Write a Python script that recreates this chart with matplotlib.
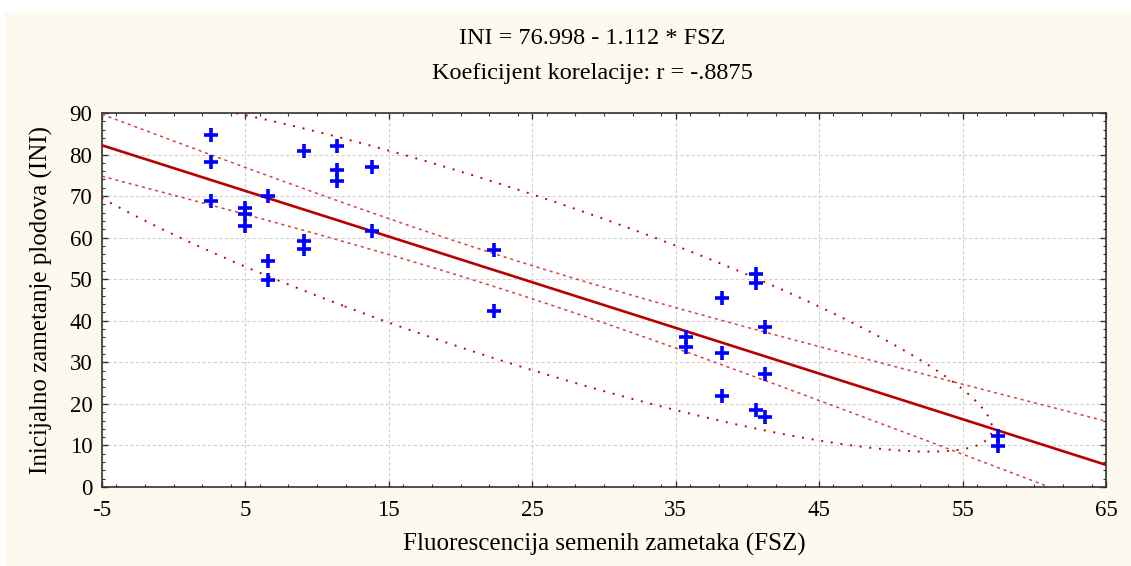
#!/usr/bin/env python3
import numpy as np
import matplotlib
matplotlib.use('Agg')
import matplotlib.pyplot as plt
from matplotlib.patches import Rectangle
from matplotlib.ticker import MultipleLocator

# FSZ (x) and INI (y)
fsz = [2.6, 2.6, 2.6, 5.0, 5.0, 5.0, 6.6, 6.6, 6.6, 9.1, 9.1, 9.1,
       11.4, 11.4, 11.4, 13.8, 13.8, 22.3, 22.3, 35.7, 35.7,
       38.2, 38.2, 38.2, 40.6, 40.6, 40.6, 41.2, 41.2, 41.2, 57.5, 57.5]
ini = [84.7, 78.2, 68.8, 67.1, 65.7, 62.8, 70.0, 54.4, 49.8, 80.8, 59.2, 57.3,
       82.0, 76.3, 73.6, 77.0, 61.6, 57.0, 42.3, 36.1, 33.7,
       45.5, 32.2, 21.9, 51.3, 49.1, 18.5, 38.5, 27.2, 16.8, 12.3, 9.9]

title_lines = ['INI = 76.998 - 1.112 * FSZ', 'Koeficijent korelacije: r = -.8875']
x_label = 'Fluorescencija semenih zametaka (FSZ)'
y_label = 'Inicijalno zametanje plodova (INI)'
x_ticks = [-5, 5, 15, 25, 35, 45, 55, 65]
y_ticks = [0, 10, 20, 30, 40, 50, 60, 70, 80, 90]

T_95 = 2.042      # t(0.975, df=30)
K_ELL = 1.97      # ellipse scale

plt.rcParams['font.family'] = ['Liberation Serif', 'DejaVu Serif']
plt.rcParams['axes.unicode_minus'] = False

x = np.array(fsz)
y = np.array(ini)
n = len(x)
b, a = np.polyfit(x, y, 1)
resid = y - (a + b * x)
s = np.sqrt(np.sum(resid ** 2) / (n - 2))
sxx = np.sum((x - x.mean()) ** 2)

xs = np.linspace(-5, 65, 300)
fit = a + b * xs
half = T_95 * s * np.sqrt(1 / n + (xs - x.mean()) ** 2 / sxx)

# normal ellipse
cov = np.cov(x, y)
vals, vecs = np.linalg.eigh(cov)
t = np.linspace(0, 2 * np.pi, 400)
circ = np.vstack([np.cos(t), np.sin(t)])
ell = vecs @ (np.sqrt(vals)[:, None] * circ) * K_ELL
ex = ell[0] + x.mean()
ey = ell[1] + y.mean()

cream = '#FDF9EE'
fig = plt.figure(figsize=(11.31, 5.66), dpi=100, facecolor='white')
fig.patches.append(Rectangle((0.004, 0), 0.996, 1 - 12 / 566, transform=fig.transFigure,
                             facecolor=cream, edgecolor='none', zorder=-10))
ax = fig.add_axes([102 / 1131, 1 - 487 / 566, (1106 - 102) / 1131, (487 - 113) / 566])
ax.set_facecolor('white')

ax.plot(xs, fit, color='#B80000', lw=1.9, zorder=3)
ax.plot(xs, fit + half, color='#D84040', lw=1.1, ls=(0, (2, 2.5)), zorder=3)
ax.plot(xs, fit - half, color='#D84040', lw=1.1, ls=(0, (2, 2.5)), zorder=3)
ax.plot(ex, ey, color='#C00000', lw=1.4, ls=(0, (1, 4)), zorder=3)
ax.plot(x, y, ls='none', marker='+', ms=10, mew=2.6, color='#0000FF', zorder=4)

ax.set_xlim(-5, 65)
ax.set_ylim(0, 90)
ax.set_xticks(x_ticks)
ax.set_yticks(y_ticks)
ax.xaxis.set_minor_locator(MultipleLocator(2))
ax.yaxis.set_minor_locator(MultipleLocator(2))
ax.tick_params(which='both', direction='in', top=True, right=True, colors='#333333',
               labelcolor='black', labelsize=16.5)
ax.tick_params(which='major', length=4, width=1)
ax.tick_params(which='minor', length=2.5, width=0.8)
ax.tick_params(axis='x', pad=9)
ax.tick_params(axis='y', pad=7)
ax.grid(True, which='major', color='#D0D0D0', ls=(0, (3, 2)), lw=0.8)
for sp in ax.spines.values():
    sp.set_color('#333333')
    sp.set_linewidth(1.2)

ax.set_xlabel(x_label, fontsize=18, labelpad=9)
ax.set_ylabel(y_label, fontsize=18, labelpad=12)

fig.text(592 / 1131, 1 - 38 / 566, title_lines[0], ha='center', va='center', fontsize=17.5)
fig.text(592 / 1131, 1 - 73 / 566, title_lines[1], ha='center', va='center', fontsize=17.5)

fig.savefig('out.png', dpi=100, facecolor=fig.get_facecolor())
